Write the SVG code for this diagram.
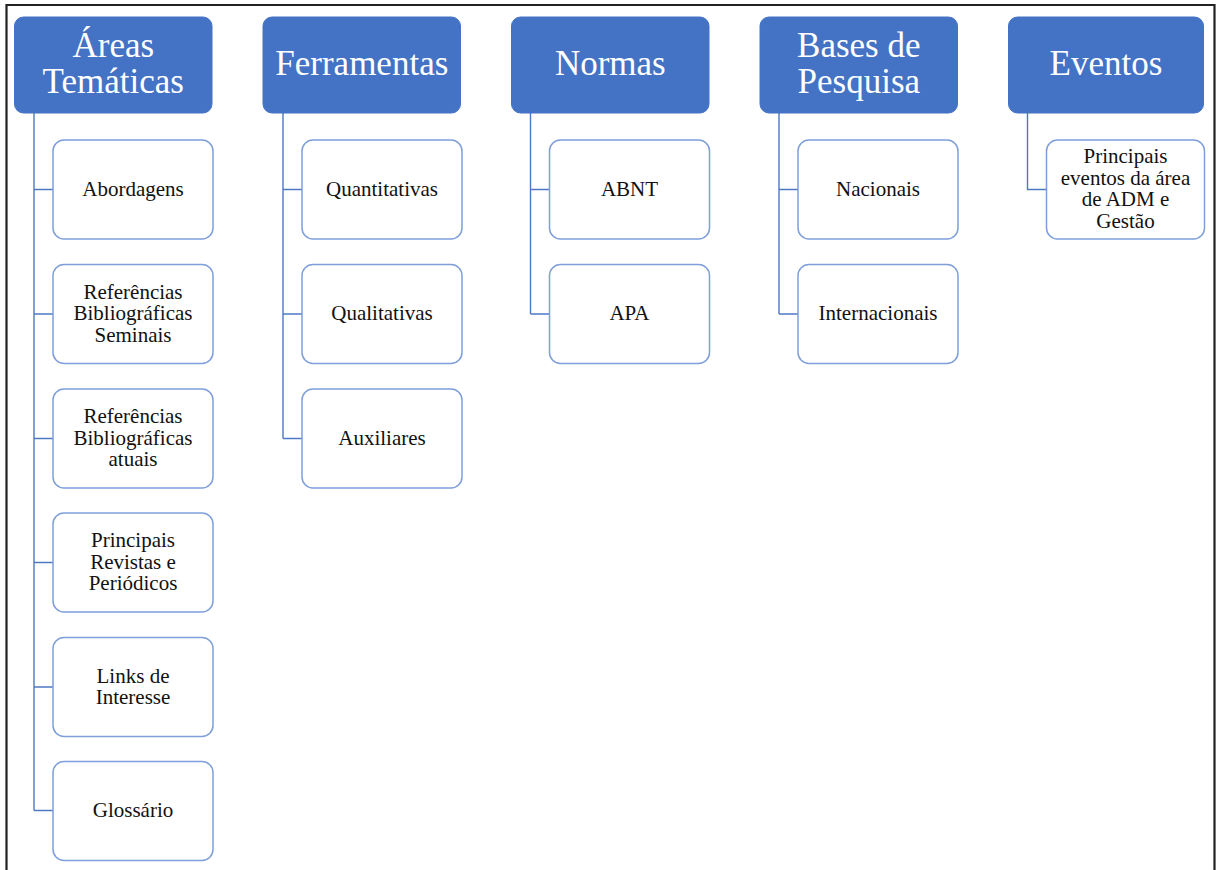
<svg xmlns="http://www.w3.org/2000/svg" width="1217" height="870" viewBox="0 0 1217 870">
  <style>
    .head rect { fill: #4472C4; stroke: #4472C4; stroke-width: 1; }
    .head text { fill: #FFFFFF; font-family: "Liberation Serif", "Times New Roman", serif; font-size: 35px; text-anchor: middle; }
    .item rect { fill: #FFFFFF; stroke: #7F9FDA; stroke-width: 1.5; }
    .item text { fill: #111111; font-family: "Liberation Serif", "Times New Roman", serif; font-size: 21px; text-anchor: middle; }
    #connectors path { fill: none; stroke: #4F78C4; stroke-width: 1.4; }
  </style>

  <!-- outer frame -->
  <path d="M6.5 872 V5 H1214.5 V872" fill="none" stroke="#222222" stroke-width="2.2"/>

  <g id="connectors">
    <path d="M34 113 V810.5 M34 189.5 H53 M34 314 H53 M34 438.5 H53 M34 562.5 H53 M34 687 H53 M34 810.5 H53"/>
    <path d="M283 113 V438.5 M283 189.5 H302 M283 314 H302 M283 438.5 H302"/>
    <path d="M530.5 113 V314 M530.5 189.5 H549.5 M530.5 314 H549.5"/>
    <path d="M779 113 V314 M779 189.5 H798 M779 314 H798"/>
    <path d="M1027.5 113 V189.5 H1046.5"/>
  </g>

  <!-- column headers -->
  <g id="head-areas" class="head">
    <rect x="14.5" y="17" width="197.5" height="96" rx="9"/>
    <text x="113.3" y="56.5">Áreas</text>
    <text x="113.3" y="93.3">Temáticas</text>
  </g>
  <g id="head-ferramentas" class="head">
    <rect x="263" y="17" width="197.5" height="96" rx="9"/>
    <text x="361.8" y="75">Ferramentas</text>
  </g>
  <g id="head-normas" class="head">
    <rect x="511.5" y="17" width="197.5" height="96" rx="9"/>
    <text x="610.3" y="75">Normas</text>
  </g>
  <g id="head-bases" class="head">
    <rect x="760" y="17" width="197.5" height="96" rx="9"/>
    <text x="858.8" y="56.5">Bases de</text>
    <text x="858.8" y="93.3">Pesquisa</text>
  </g>
  <g id="head-eventos" class="head">
    <rect x="1008.5" y="17" width="195" height="96" rx="9"/>
    <text x="1106" y="75">Eventos</text>
  </g>

  <!-- Áreas Temáticas items -->
  <g id="item-abordagens" class="item">
    <rect x="53" y="140" width="160" height="99" rx="11"/>
    <text x="133" y="196">Abordagens</text>
  </g>
  <g id="item-ref-seminais" class="item">
    <rect x="53" y="264.5" width="160" height="99" rx="11"/>
    <text x="133" y="298.5">Referências</text>
    <text x="133" y="320.2">Bibliográficas</text>
    <text x="133" y="341.9">Seminais</text>
  </g>
  <g id="item-ref-atuais" class="item">
    <rect x="53" y="389" width="160" height="99" rx="11"/>
    <text x="133" y="423">Referências</text>
    <text x="133" y="444.7">Bibliográficas</text>
    <text x="133" y="466.4">atuais</text>
  </g>
  <g id="item-revistas" class="item">
    <rect x="53" y="513" width="160" height="99" rx="11"/>
    <text x="133" y="547">Principais</text>
    <text x="133" y="568.7">Revistas e</text>
    <text x="133" y="590.4">Periódicos</text>
  </g>
  <g id="item-links" class="item">
    <rect x="53" y="637.5" width="160" height="99" rx="11"/>
    <text x="133" y="682.7">Links de</text>
    <text x="133" y="704.4">Interesse</text>
  </g>
  <g id="item-glossario" class="item">
    <rect x="53" y="761.5" width="160" height="99" rx="11"/>
    <text x="133" y="817">Glossário</text>
  </g>

  <!-- Ferramentas items -->
  <g id="item-quantitativas" class="item">
    <rect x="302" y="140" width="160" height="99" rx="11"/>
    <text x="382" y="196">Quantitativas</text>
  </g>
  <g id="item-qualitativas" class="item">
    <rect x="302" y="264.5" width="160" height="99" rx="11"/>
    <text x="382" y="320">Qualitativas</text>
  </g>
  <g id="item-auxiliares" class="item">
    <rect x="302" y="389" width="160" height="99" rx="11"/>
    <text x="382" y="444.5">Auxiliares</text>
  </g>

  <!-- Normas items -->
  <g id="item-abnt" class="item">
    <rect x="549.5" y="140" width="160" height="99" rx="11"/>
    <text x="629.5" y="196">ABNT</text>
  </g>
  <g id="item-apa" class="item">
    <rect x="549.5" y="264.5" width="160" height="99" rx="11"/>
    <text x="629.5" y="320">APA</text>
  </g>

  <!-- Bases de Pesquisa items -->
  <g id="item-nacionais" class="item">
    <rect x="798" y="140" width="160" height="99" rx="11"/>
    <text x="878" y="196">Nacionais</text>
  </g>
  <g id="item-internacionais" class="item">
    <rect x="798" y="264.5" width="160" height="99" rx="11"/>
    <text x="878" y="320">Internacionais</text>
  </g>

  <!-- Eventos item -->
  <g id="item-eventos" class="item">
    <rect x="1046.5" y="140" width="158" height="99" rx="11"/>
    <text x="1125.5" y="162.9">Principais</text>
    <text x="1125.5" y="184.6">eventos da área</text>
    <text x="1125.5" y="206.3">de ADM e</text>
    <text x="1125.5" y="228">Gestão</text>
  </g>
</svg>
